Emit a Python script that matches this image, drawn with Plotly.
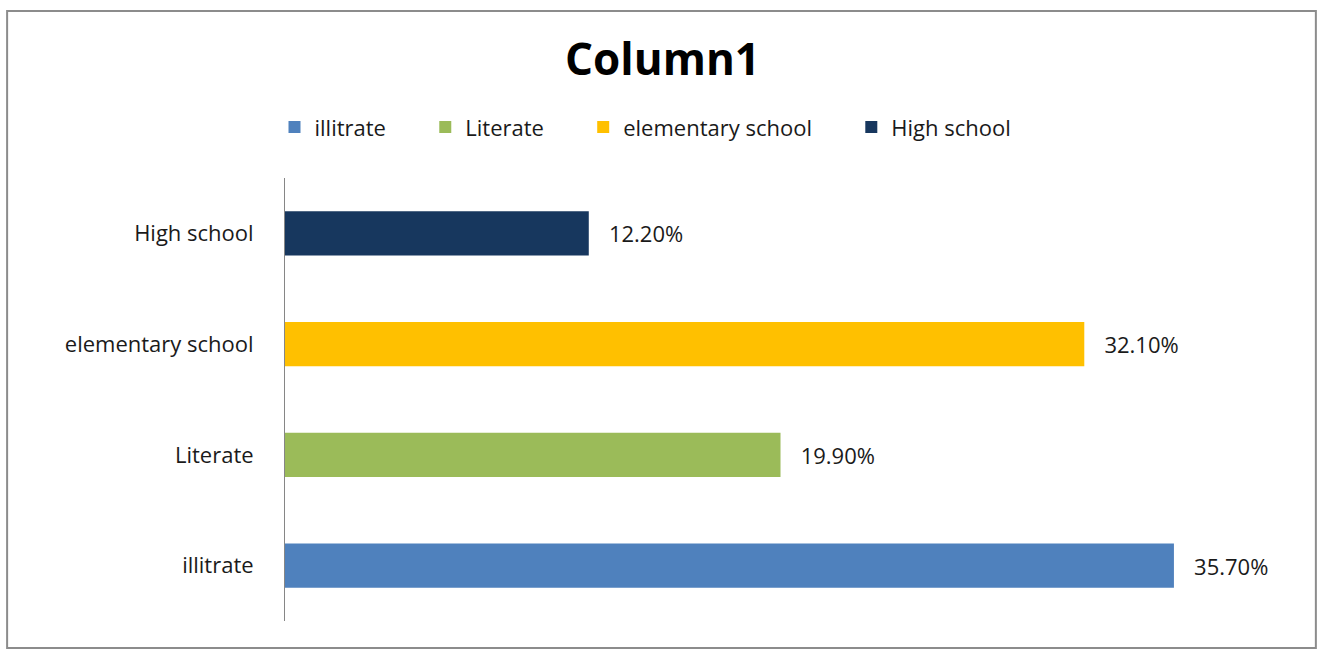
import plotly.graph_objects as go

categories = ["illitrate", "Literate", "elementary school", "High school"]
values = [0.357, 0.199, 0.321, 0.122]
colors = ["#4f81bd", "#9bbb59", "#ffc000", "#17375e"]

FONT = "Open Sans, Liberation Sans, sans-serif"
LABEL_PAD = "\u00a0" * 3   # gap between bar end and value label
LEGEND_PAD = "\u00a0" * 6  # wider spacing between legend entries

fig = go.Figure()
for cat, val, col in zip(categories, values, colors):
    fig.add_trace(go.Bar(
        name=cat + LEGEND_PAD,
        y=[cat],
        x=[val],
        orientation="h",
        width=0.4,
        marker=dict(color=col, line=dict(width=0)),
        text=[f"{LABEL_PAD}{val * 100:.2f}%"],
        textposition="outside",
        textfont=dict(size=22, color="#1a1a1a", family=FONT),
        cliponaxis=False,
    ))

fig.update_layout(
    width=1325, height=663,
    margin=dict(l=285, r=44, t=178, b=42),
    paper_bgcolor="white", plot_bgcolor="white",
    barmode="overlay",
    font=dict(family=FONT, size=22, color="#1a1a1a"),
    title=dict(text="<b>Column1</b>", x=0.5, xref="container", y=0.91, yanchor="middle",
               font=dict(size=44, color="black", family=FONT)),
    legend=dict(orientation="h", x=0.5, xanchor="center", xref="container",
                y=0.808, yref="container", yanchor="middle",
                traceorder="normal", font=dict(size=22), itemwidth=30),
    showlegend=True,
)
fig.update_xaxes(range=[0, 0.40], visible=False, showgrid=False)
fig.update_yaxes(categoryorder="array", categoryarray=categories,
                 showline=True, linecolor="#868686", linewidth=1,
                 ticks="", ticklen=0, showgrid=False, ticklabelstandoff=26)

# grey frame around the whole chart (Excel style)
fig.add_shape(type="rect", xref="paper", yref="paper",
              x0=-0.279, x1=1.035, y0=-0.061, y1=1.377,
              line=dict(color="#8c8c8c", width=2), layer="below")

fig.write_html("out.html", config={"displayModeBar": False},
               post_script="document.body.style.margin='0';document.body.style.overflow='hidden';")
